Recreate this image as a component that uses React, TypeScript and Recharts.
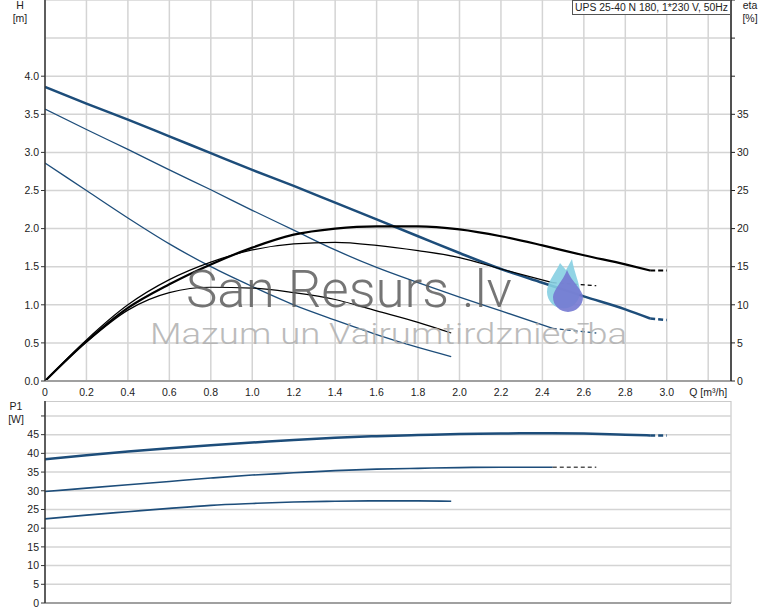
import { LineChart, Line, XAxis, YAxis, CartesianGrid, ReferenceLine } from "recharts"

// speed 3 (top curve)
const qS3 = [0, 0.2, 0.4, 0.6, 0.8, 1.0, 1.2, 1.4, 1.6, 1.8, 2.0, 2.2, 2.4, 2.6, 2.8, 2.92]
const headS3 = [3.86, 3.64, 3.43, 3.21, 2.99, 2.77, 2.56, 2.34, 2.12, 1.9, 1.68, 1.47, 1.29, 1.11, 0.94, 0.82]
const etaS3 = [0, 5.2, 9.6, 12.7, 15.3, 17.5, 19.2, 20.0, 20.3, 20.3, 19.9, 19.0, 17.8, 16.5, 15.3, 14.5]
const powerS3 = [38.4, 39.5, 40.5, 41.4, 42.2, 42.9, 43.6, 44.2, 44.6, 44.9, 45.2, 45.3, 45.4, 45.3, 45.0, 44.8]
const qS3Ext = [2.92, 3.0]
const headS3Ext = [0.82, 0.8]
const etaS3Ext = [14.5, 14.5]
const powerS3Ext = [44.8, 44.8]

// speed 2
const qS2 = [0, 0.2, 0.4, 0.6, 0.8, 1.0, 1.2, 1.4, 1.6, 1.8, 2.0, 2.2, 2.45]
const headS2 = [3.57, 3.3, 3.04, 2.77, 2.51, 2.24, 1.98, 1.72, 1.49, 1.29, 1.1, 0.92, 0.69]
const etaS2 = [0, 5.4, 10.0, 13.3, 15.6, 17.2, 18.0, 18.2, 17.8, 17.1, 16.2, 14.7, 12.9]
const powerS2 = [29.8, 30.7, 31.6, 32.5, 33.4, 34.2, 34.8, 35.4, 35.8, 36.0, 36.2, 36.3, 36.3]
const qS2Ext = [2.45, 2.66]
const headS2Ext = [0.69, 0.63]
const etaS2Ext = [12.9, 12.5]
const powerS2Ext = [36.3, 36.3]

// speed 1
const qS1 = [0, 0.2, 0.4, 0.6, 0.8, 1.0, 1.2, 1.4, 1.6, 1.8, 1.96]
const headS1 = [2.86, 2.5, 2.14, 1.8, 1.5, 1.24, 1.0, 0.8, 0.61, 0.44, 0.32]
const etaS1 = [0, 5.1, 9.3, 11.6, 12.3, 12.2, 11.6, 10.7, 9.2, 7.7, 6.3]
const powerS1 = [22.5, 23.5, 24.4, 25.3, 26.1, 26.6, 27.0, 27.2, 27.3, 27.3, 27.2]

const qTicks = [0, 0.2, 0.4, 0.6, 0.8, 1.0, 1.2, 1.4, 1.6, 1.8, 2.0, 2.2, 2.4, 2.6, 2.8, 3.0, 3.2]
const headTicks = [0, 0.5, 1.0, 1.5, 2.0, 2.5, 3.0, 3.5, 4.0]
const etaTicks = [0, 5, 10, 15, 20, 25, 30, 35, 40, 45, 50]
const powerTicks = [0, 5, 10, 15, 20, 25, 30, 35, 40, 45, 50]

const pts = (q: number[], v: number[]) => q.map((x, i) => ({ q: x, v: v[i] }))

const FONT = "'Liberation Sans', Arial, sans-serif"
const BLUE = "#1d4d7a"
const GRID = "#d4d4d4"
const tickStyle = { fontSize: 10.5, fill: "#222", fontFamily: FONT }

const qLabel = (v: number) => (v === 3.2 ? "Q [m³/h]" : v === 0 ? "0" : v.toFixed(1))

export default function App() {
  return (
    <div style={{ position: "absolute", left: 0, top: 0, width: 774, height: 611, background: "#fff", fontFamily: FONT }}>
      <div style={{ position: "absolute", left: 0, top: 0 }}>
        <LineChart width={774} height={400} margin={{ top: 0, right: 0, bottom: 0, left: 0 }}>
          <CartesianGrid yAxisId="eta" stroke={GRID} strokeWidth={1.5} />
          <XAxis
            dataKey="q"
            type="number"
            domain={[0, 3.31]}
            ticks={qTicks}
            interval={0}
            tickFormatter={qLabel}
            tickLine={false}
            axisLine={{ stroke: "#a0a0a0", strokeWidth: 2 }}
            tick={tickStyle}
            height={19}
            allowDataOverflow
          />
          <YAxis
            yAxisId="h"
            domain={[0, 5]}
            ticks={headTicks}
            tickFormatter={(v: number) => v.toFixed(1)}
            width={45}
            tickSize={4}
            tickMargin={2}
            tick={tickStyle}
            axisLine={{ stroke: "#333", strokeWidth: 1.5 }}
            tickLine={{ stroke: "#333" }}
          />
          <YAxis
            yAxisId="eta"
            orientation="right"
            domain={[0, 50]}
            ticks={etaTicks}
            interval={0}
            tickFormatter={(v: number) => (v <= 35 ? String(v) : "")}
            width={43}
            tickSize={4}
            tickMargin={2}
            tick={tickStyle}
            axisLine={{ stroke: "#222", strokeWidth: 1.5 }}
            tickLine={{ stroke: "#222" }}
          />
          <Line data={pts(qS3, headS3)} dataKey="v" yAxisId="h" type="monotone" stroke={BLUE} strokeWidth={2.5} dot={false} isAnimationActive={false} />
          <Line data={pts(qS3Ext, headS3Ext)} dataKey="v" yAxisId="h" type="linear" stroke={BLUE} strokeWidth={2.5} strokeDasharray="5 3" dot={false} isAnimationActive={false} />
          <Line data={pts(qS2, headS2)} dataKey="v" yAxisId="h" type="monotone" stroke={BLUE} strokeWidth={1.3} dot={false} isAnimationActive={false} />
          <Line data={pts(qS2Ext, headS2Ext)} dataKey="v" yAxisId="h" type="linear" stroke={BLUE} strokeWidth={1.3} strokeDasharray="4 3" dot={false} isAnimationActive={false} />
          <Line data={pts(qS1, headS1)} dataKey="v" yAxisId="h" type="monotone" stroke={BLUE} strokeWidth={1.3} dot={false} isAnimationActive={false} />
          <Line data={pts(qS3, etaS3)} dataKey="v" yAxisId="eta" type="monotone" stroke="#000" strokeWidth={2.2} dot={false} isAnimationActive={false} />
          <Line data={pts(qS3Ext, etaS3Ext)} dataKey="v" yAxisId="eta" type="linear" stroke="#000" strokeWidth={2.2} strokeDasharray="5 3" dot={false} isAnimationActive={false} />
          <Line data={pts(qS2, etaS2)} dataKey="v" yAxisId="eta" type="monotone" stroke="#000" strokeWidth={1.2} dot={false} isAnimationActive={false} />
          <Line data={pts(qS2Ext, etaS2Ext)} dataKey="v" yAxisId="eta" type="linear" stroke="#000" strokeWidth={1.2} strokeDasharray="4 3" dot={false} isAnimationActive={false} />
          <Line data={pts(qS1, etaS1)} dataKey="v" yAxisId="eta" type="monotone" stroke="#000" strokeWidth={1.2} dot={false} isAnimationActive={false} />
        </LineChart>
      </div>

      <div style={{ position: "absolute", left: 0, top: 401 }}>
        <LineChart width={774} height={210} margin={{ top: 0, right: 43, bottom: 0, left: 0 }}>
          <CartesianGrid stroke={GRID} strokeWidth={1.5} />
          <XAxis
            dataKey="q"
            type="number"
            domain={[0, 3.31]}
            ticks={qTicks}
            interval={0}
            tick={false}
            tickLine={false}
            axisLine={{ stroke: "#a0a0a0", strokeWidth: 2 }}
            height={8}
            allowDataOverflow
          />
          <YAxis
            domain={[0, 54]}
            ticks={powerTicks}
            interval={0}
            tickFormatter={(v: number) => (v === 50 ? "" : String(v))}
            width={45}
            tickSize={4}
            tickMargin={2}
            tick={tickStyle}
            axisLine={{ stroke: "#333", strokeWidth: 1.5 }}
            tickLine={{ stroke: "#333" }}
          />
          <ReferenceLine y={54} stroke="#c4c4c4" strokeWidth={1.5} />
          <Line data={pts(qS3, powerS3)} dataKey="v" type="monotone" stroke={BLUE} strokeWidth={2.5} dot={false} isAnimationActive={false} />
          <Line data={pts(qS3Ext, powerS3Ext)} dataKey="v" type="linear" stroke={BLUE} strokeWidth={2.5} strokeDasharray="5 3" dot={false} isAnimationActive={false} />
          <Line data={pts(qS2, powerS2)} dataKey="v" type="monotone" stroke={BLUE} strokeWidth={1.6} dot={false} isAnimationActive={false} />
          <Line data={pts(qS2Ext, powerS2Ext)} dataKey="v" type="linear" stroke="#555" strokeWidth={1.4} strokeDasharray="4 3" dot={false} isAnimationActive={false} />
          <Line data={pts(qS1, powerS1)} dataKey="v" type="monotone" stroke={BLUE} strokeWidth={1.6} dot={false} isAnimationActive={false} />
        </LineChart>
      </div>

      <svg width={774} height={611} style={{ position: "absolute", left: 0, top: 0, pointerEvents: "none" }}>
        <g fontFamily={FONT} fontSize={10.5} fill="#222">
          <text x={20} y={9} textAnchor="middle">H</text>
          <text x={20} y={22} textAnchor="middle">[m]</text>
          <text x={750} y={9} textAnchor="middle">eta</text>
          <text x={750} y={22} textAnchor="middle">[%]</text>
          <text x={16} y={410} textAnchor="middle">P1</text>
          <text x={16} y={423} textAnchor="middle">[W]</text>
        </g>
        <rect x={572.5} y={0.5} width={158} height={14} fill="#fff" stroke="#555" />
        <text x={575} y={11} fontFamily={FONT} fontSize={10} fill="#222" textLength={153} lengthAdjust="spacingAndGlyphs">UPS 25-40 N 180, 1*230 V, 50Hz</text>

        <text x={186} y={307} fontFamily="Roboto, sans-serif" fontWeight={300} fontSize={52} fill="#5e5e5e" opacity={0.85} textLength={326} lengthAdjust="spacingAndGlyphs">San Resurs .lv</text>
        <text x={150} y={344} fontFamily="Roboto, sans-serif" fontWeight={300} fontSize={30} fill="#b0b0b0" opacity={0.85} textLength={477} lengthAdjust="spacingAndGlyphs">Mazum un Vairumtirdzniecība</text>
        <path d="M572,259 C574,272 580,284 580,292 A16.5,16.5 0 0 1 547,292 C547,282 556,272 560,263 L566,270 Z" fill="#86cfe2" opacity={0.9} />
        <path d="M567,270 C571,281 583,290 583,297 A15,15 0 0 1 553,297 C553,290 563,281 567,270 Z" fill="#7479d2" opacity={0.9} />
      </svg>
    </div>
  )
}
